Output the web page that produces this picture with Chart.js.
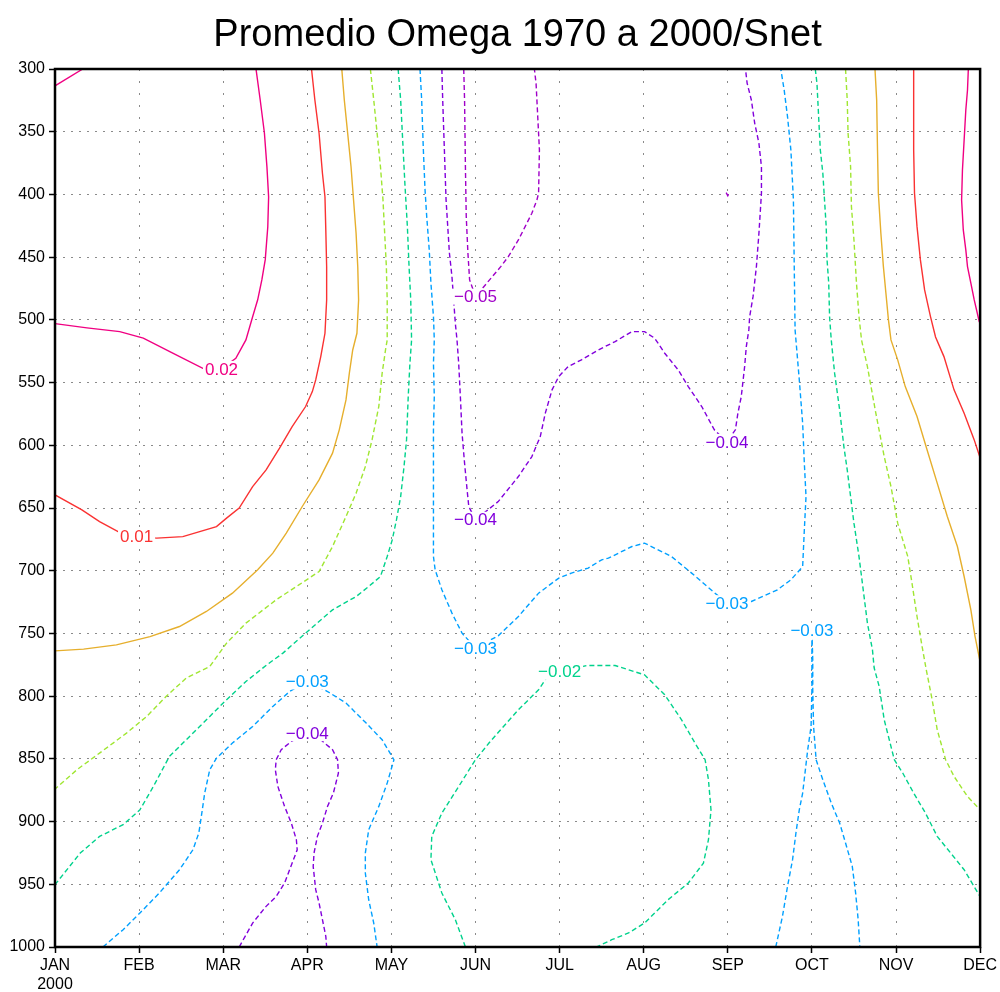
<!DOCTYPE html>
<html>
<head>
<meta charset="utf-8">
<script src="https://cdn.jsdelivr.net/npm/chart.js@4.4.1/dist/chart.umd.min.js"></script>
<style>
html,body{margin:0;padding:0;background:#fff;}
#wrap{width:1000px;height:992px;}
</style>
</head>
<body>
<div id="wrap"><canvas id="c" width="1000" height="992"></canvas></div>
<script>
// ---- axis categories / ticks ----
const monthLabels = ['JAN','FEB','MAR','APR','MAY','JUN','JUL','AUG','SEP','OCT','NOV','DEC'];
const yearLabel = '2000';
const pressureMin = 300, pressureMax = 1000, pressureStep = 50;
const titleText = 'Promedio Omega 1970 a 2000/Snet';

// ---- contour lines: [month index, pressure hPa] ----
// level +0.02
const P02A = [[0,313.5],[0.33,300]];
const P02B = [[2.39,300],[2.44,324.7],[2.49,351],[2.52,378],[2.54,402],[2.53,426],[2.50,452],[2.46,468],[2.41,484],[2.35,497.5],[2.27,516],[2.15,530.6],[1.98,539],[1.77,539],[1.40,526.6],[1.05,514.6],[0.77,509.4],[0.38,506.4],[0,503]];
const P02C = [[10.86,300],[10.85,316.7],[10.83,332.7],[10.81,356.6],[10.79,380.5],[10.78,404.4],[10.80,428.3],[10.83,444.2],[10.85,457.5],[10.89,470.8],[10.93,484.1],[10.99,501.4],[11,502.5]];
// level +0.01
const P01A = [[3.05,300],[3.09,324.7],[3.14,351.2],[3.18,383.1],[3.21,401.8],[3.22,428.3],[3.23,457.6],[3.23,484.1],[3.21,510.7],[3.16,529.3],[3.10,547.9],[3.06,557.2],[2.98,569.1],[2.82,585.1],[2.67,602.3],[2.51,619.6],[2.35,632.9],[2.19,650.1],[2.04,658.1],[1.92,664.8],[1.72,668.8],[1.52,672.8],[1.21,674],[0.97,673],[0.75,668.8],[0.53,660.8],[0.32,651.5],[0,639.5]];
const P01B = [[10.21,300],[10.21,324.7],[10.21,364.6],[10.22,399.1],[10.25,425.7],[10.29,452.2],[10.34,476.1],[10.41,497.4],[10.47,513.6],[10.57,529.3],[10.69,555.8],[10.81,574.4],[10.93,595.7],[11,610]];
// level 0.00
const Z00A = [[3.41,300],[3.44,324.7],[3.48,351.2],[3.52,377.9],[3.55,404.4],[3.58,431],[3.60,457.6],[3.61,484.1],[3.59,510.7],[3.54,524],[3.50,542.5],[3.46,563.8],[3.38,587.7],[3.30,606.3],[3.14,627.6],[2.94,648.8],[2.75,670],[2.59,686],[2.41,699.3],[2.11,717.9],[1.80,732.5],[1.48,744.5],[1.13,752.5],[0.73,759.1],[0.34,762.5],[0,763.9]];
const Z00B = [[9.75,300],[9.77,324.7],[9.78,364.6],[9.79,399.1],[9.82,431],[9.85,457.6],[9.88,478.8],[9.91,500],[9.94,516],[10.02,531.9],[10.11,553.2],[10.25,577.1],[10.37,603.7],[10.49,630.2],[10.61,656.8],[10.73,680.7],[10.81,704.6],[10.89,731.2],[10.94,752.5],[11,772.6]];
// level -0.01
const N01A = [[3.75,300],[3.79,324.7],[3.83,351.2],[3.87,377.9],[3.90,404.4],[3.92,431],[3.94,457.6],[3.95,484.1],[3.95,516],[3.93,524],[3.89,542.5],[3.85,569.1],[3.77,595.7],[3.69,617],[3.58,638.2],[3.46,656.8],[3.30,680.7],[3.14,700.7],[2.90,711.3],[2.63,723.2],[2.27,741.8],[2.04,757.7],[1.84,776.4],[1.56,785.6],[1.32,800.3],[1.09,816.2],[0.85,829.5],[0.53,845.4],[0.26,858.7],[0,874.1]];
const N01B = [[9.40,300],[9.42,324.7],[9.43,351.2],[9.46,377.9],[9.47,409.7],[9.50,436.3],[9.53,470.8],[9.56,497.4],[9.59,516],[9.66,537.3],[9.76,574.4],[9.86,609],[9.94,632.9],[10.02,662.1],[10.14,688.7],[10.19,709.9],[10.25,736.5],[10.31,760.4],[10.36,779],[10.43,802.9],[10.49,826.8],[10.59,850.7],[10.69,864],[10.85,880],[11,890.6]];
// level -0.02
const N02A = [[4.08,300],[4.11,324.7],[4.14,364.6],[4.16,391.1],[4.19,425.7],[4.21,457.6],[4.23,484.1],[4.24,516],[4.22,534.6],[4.20,561.2],[4.18,595.7],[4.15,617],[4.11,640.9],[4.06,659.5],[4.01,675.4],[3.95,688.7],[3.87,704.6],[3.73,712.6],[3.58,720.6],[3.30,731.2],[2.98,749.8],[2.71,765.7],[2.52,775],[2.27,788.3],[2.00,805.5],[1.72,824.2],[1.36,848.1],[1.17,872],[1.01,890.6],[0.81,902.5],[0.53,911.8],[0.30,925.1],[0,950.3]];
const N02B = [[9.04,300],[9.06,311.4],[9.08,338],[9.10,364.6],[9.13,383.1],[9.15,404.4],[9.17,425.7],[9.18,452.2],[9.20,470.8],[9.21,497.4],[9.23,516],[9.27,542.5],[9.33,571.8],[9.38,601],[9.42,619.6],[9.46,640.9],[9.50,662.1],[9.56,688.7],[9.60,709.9],[9.66,741.8],[9.72,763.1],[9.74,777.4],[9.80,792.3],[9.86,818.9],[9.98,850.7],[10.08,861.3],[10.21,877.3],[10.35,893.2],[10.49,911.8],[10.65,925.1],[10.81,938.4],[11,959.9]];
const N02C = [[4.88,1000],[4.76,978.2],[4.60,957],[4.47,930.4],[4.48,911.8],[4.60,893.2],[4.80,872],[5.00,850.7],[5.16,837.4],[5.28,828.2],[5.51,810.9],[5.75,794.9],[5.87,783],[6.00,780.6],[6.32,775.6],[6.66,775.6],[7.01,783],[7.25,798.9],[7.45,818.9],[7.61,837.4],[7.73,850.7],[7.77,866.7],[7.80,890.6],[7.77,914.5],[7.71,933.1],[7.53,949],[7.29,962.3],[7.01,980.9],[6.82,988.8],[6.62,994.2],[6.44,1000]];
// level -0.03
const N03A = [[4.34,300],[4.36,324.7],[4.38,364.6],[4.40,396.4],[4.42,417.7],[4.45,444.3],[4.47,470.8],[4.50,497.4],[4.51,516],[4.50,534.6],[4.51,561.2],[4.50,587.7],[4.50,619.6],[4.50,654.1],[4.50,688.7],[4.52,699.3],[4.60,715.2],[4.72,733.8],[4.84,749.8],[5.00,761.7],[5.27,751.9],[5.51,736.5],[5.75,717.9],[5.99,705.9],[6.14,701.9],[6.34,697.9],[6.50,691.3],[6.58,690],[6.86,680.7],[7.01,678],[7.33,688.7],[7.57,701.9],[7.80,715.2],[7.99,725.9],[8.28,724.5],[8.59,715.2],[8.75,707.3],[8.89,696.7],[8.91,667.4],[8.93,640.9],[8.91,614.3],[8.89,582.4],[8.85,547.9],[8.80,508],[8.79,457.6],[8.78,404.4],[8.75,364.6],[8.71,338],[8.67,316.7],[8.63,300]];
const N03B = [[0.57,1000],[0.81,986.2],[1.01,972.9],[1.24,957],[1.48,938.4],[1.64,922.5],[1.71,909.1],[1.74,895.9],[1.78,877.3],[1.84,858.7],[1.92,849.4],[2.11,837.4],[2.35,824.2],[2.59,808.2],[2.79,796.3],[3.00,788.3],[3.24,796.3],[3.46,805.5],[3.70,821.5],[3.89,834.8],[4.03,850.7],[3.95,869.3],[3.85,887.9],[3.73,906.5],[3.69,925.1],[3.69,941],[3.73,962.3],[3.79,980.9],[3.83,1000]];
const N03C = [[8.57,1000],[8.65,975.6],[8.71,951.7],[8.77,930.4],[8.81,909.1],[8.85,890.6],[8.89,877.3],[8.95,842.8],[8.99,824.2],[9.00,794.9],[9.00,771],[9.00,748],[9.01,771],[9.01,794.9],[9.02,824.2],[9.05,850.7],[9.13,866.7],[9.23,885.2],[9.33,901.2],[9.40,917.1],[9.48,935.7],[9.52,957],[9.55,978.2],[9.57,1000]];
// level -0.04
const N04A = [[2.19,1000],[2.35,980.9],[2.51,967.6],[2.63,959.7],[2.73,949],[2.82,933.1],[2.88,922.5],[2.87,914.5],[2.81,901.2],[2.73,888],[2.65,872],[2.62,858.7],[2.63,850.7],[2.69,842.7],[2.81,836.1],[3.00,829.5],[3.16,834.8],[3.30,842.7],[3.36,850.7],[3.37,861.3],[3.31,877.3],[3.24,888],[3.18,901.2],[3.12,911.8],[3.08,925.1],[3.07,935.8],[3.10,954.3],[3.14,965],[3.18,978.2],[3.22,991.5],[3.23,1000]];
const N04B = [[4.60,300],[4.61,324.7],[4.63,364.6],[4.65,404.4],[4.67,425.7],[4.69,446.9],[4.72,465.5],[4.74,484.1],[4.76,502.7],[4.78,516],[4.80,534.6],[4.82,561.2],[4.84,590.3],[4.87,614.3],[4.90,635.5],[4.92,648.8],[5.00,659.4],[5.27,644.9],[5.51,624.9],[5.67,609],[5.77,593.1],[5.83,574.4],[5.91,555.8],[5.99,545.2],[6.10,537.3],[6.26,531.9],[6.46,524],[6.66,517.3],[6.86,509.4],[7.01,509.4],[7.13,514.6],[7.25,526.6],[7.41,539.9],[7.53,553.2],[7.69,569.1],[7.84,587.7],[7.99,597.3],[8.09,587.7],[8.12,574.4],[8.16,561.2],[8.20,537.3],[8.22,521.3],[8.25,508],[8.26,497.4],[8.30,481.5],[8.34,457.6],[8.37,431],[8.40,399.1],[8.40,377.9],[8.37,359.2],[8.32,343.3],[8.28,324.7],[8.23,311.4],[8.21,300]];
// level -0.05
const N05A = [[4.86,300],[4.87,324.7],[4.88,377.9],[4.89,417.7],[4.91,446.9],[4.93,468.2],[5.00,481.5],[5.20,465.5],[5.30,457.6],[5.39,449.6],[5.51,436.3],[5.59,425.7],[5.67,415],[5.73,404.4],[5.75,399.1],[5.76,364.6],[5.74,338],[5.72,311.4],[5.70,300]];
const N05B = [[7.98,398.5],[8.0,401],[8.02,398.5]];

// ---- contour labels ----
const labelLevels    = [0.02, 0.01, -0.05, -0.04, -0.04, -0.03, -0.03, -0.03, -0.03, -0.04, -0.02];
const labelMonths    = [1.98, 0.97, 5.00, 5.00, 7.99, 5.00, 7.99, 9.00, 3.00, 3.00, 6.00];
const labelPressures = [539.1, 672.7, 481.5, 659.4, 597.3, 761.7, 725.9, 747.9, 788.3, 829.5, 780.6];

// ---- level -> style ----
const levelColors = {
  '-0.05':'rgb(160,0,200)', '-0.04':'rgb(130,0,220)', '-0.03':'rgb(0,160,255)',
  '-0.02':'rgb(0,210,140)', '-0.01':'rgb(160,230,50)', '0.00':'rgb(230,175,45)',
  '0.01':'rgb(250,50,50)', '0.02':'rgb(240,0,130)'
};
function colorFor(l){ return levelColors[l.toFixed(2)]; }

const contours = [
  [0.02,P02A],[0.02,P02B],[0.02,P02C],
  [0.01,P01A],[0.01,P01B],
  [0.00,Z00A],[0.00,Z00B],
  [-0.01,N01A],[-0.01,N01B],
  [-0.02,N02A],[-0.02,N02B],[-0.02,N02C],
  [-0.03,N03A],[-0.03,N03B],[-0.03,N03C],
  [-0.04,N04A],[-0.04,N04B],
  [-0.05,N05A],[-0.05,N05B]
];

const datasets = contours.map(([lev, pts]) => ({
  data: pts.map(p => ({x:p[0], y:p[1]})),
  showLine: true,
  borderColor: colorFor(lev),
  borderWidth: 1.4,
  borderDash: lev < 0 ? [5,3] : [],
  pointRadius: 0,
  tension: 0,
  fill: false
}));

const frameAndLabels = {
  id: 'frameAndLabels',
  afterDatasetsDraw(chart){
    const {ctx, chartArea:a, scales:{x, y}} = chart;
    ctx.save();
    ctx.font = '17px "Liberation Sans", Arial, sans-serif';
    ctx.textAlign = 'center';
    ctx.textBaseline = 'middle';
    for (let i = 0; i < labelLevels.length; i++) {
      const lv = labelLevels[i];
      const txt = (lv < 0 ? '\u2212' : '') + Math.abs(lv).toFixed(2);
      const px = x.getPixelForValue(labelMonths[i]);
      const py = y.getPixelForValue(labelPressures[i]);
      const w = ctx.measureText(txt).width;
      ctx.fillStyle = '#fff';
      ctx.fillRect(px - w/2 - 2, py - 8, w + 4, 16);
      ctx.fillStyle = colorFor(lv);
      ctx.fillText(txt, px, py + 1);
    }
    ctx.strokeStyle = '#000';
    ctx.lineWidth = 2.5;
    ctx.setLineDash([]);
    ctx.strokeRect(a.left, a.top, a.right - a.left, a.bottom - a.top);
    ctx.restore();
  }
};

const tickFont = {family:'"Liberation Sans", Arial, sans-serif', size:16};

new Chart(document.getElementById('c'), {
  type: 'scatter',
  data: {datasets},
  options: {
    responsive: false,
    animation: false,
    devicePixelRatio: 1,
    layout: {padding: {top:0, left:0, right:17, bottom:0}},
    plugins: {
      legend: {display:false},
      tooltip: {enabled:false},
      title: {
        display: true, text: titleText, fullSize: false, color:'#000',
        font: {family:'"Liberation Sans", Arial, sans-serif', size:38, weight:'normal', lineHeight:1.2},
        padding: {top:13, bottom:10.4}
      }
    },
    scales: {
      x: {
        type:'linear', min:0, max:11,
        afterFit(s){ s.height = 45; },
        ticks: {
          stepSize:1, autoSkip:false, maxRotation:0, color:'#000', font:tickFont, padding:3,
          callback(v){ if (!Number.isInteger(v)) return ''; return v === 0 ? [monthLabels[0], yearLabel] : monthLabels[v]; }
        },
        grid: {color:'#8a8a8a', lineWidth:1, tickColor:'#000', tickLength:6, tickWidth:1.5, tickBorderDash:[]},
        border: {display:false, dash:[2,10]}
      },
      y: {
        type:'linear', reverse:true, min:pressureMin, max:pressureMax,
        afterFit(s){ s.width = 55; },
        ticks: {stepSize:pressureStep, color:'#000', font:tickFont, padding:4, callback(v){ return String(v); }},
        grid: {color:'#8a8a8a', lineWidth:1, tickColor:'#000', tickLength:6, tickWidth:1.5, tickBorderDash:[]},
        border: {display:false, dash:[2,6]}
      }
    }
  },
  plugins: [frameAndLabels]
});
</script>
</body>
</html>
